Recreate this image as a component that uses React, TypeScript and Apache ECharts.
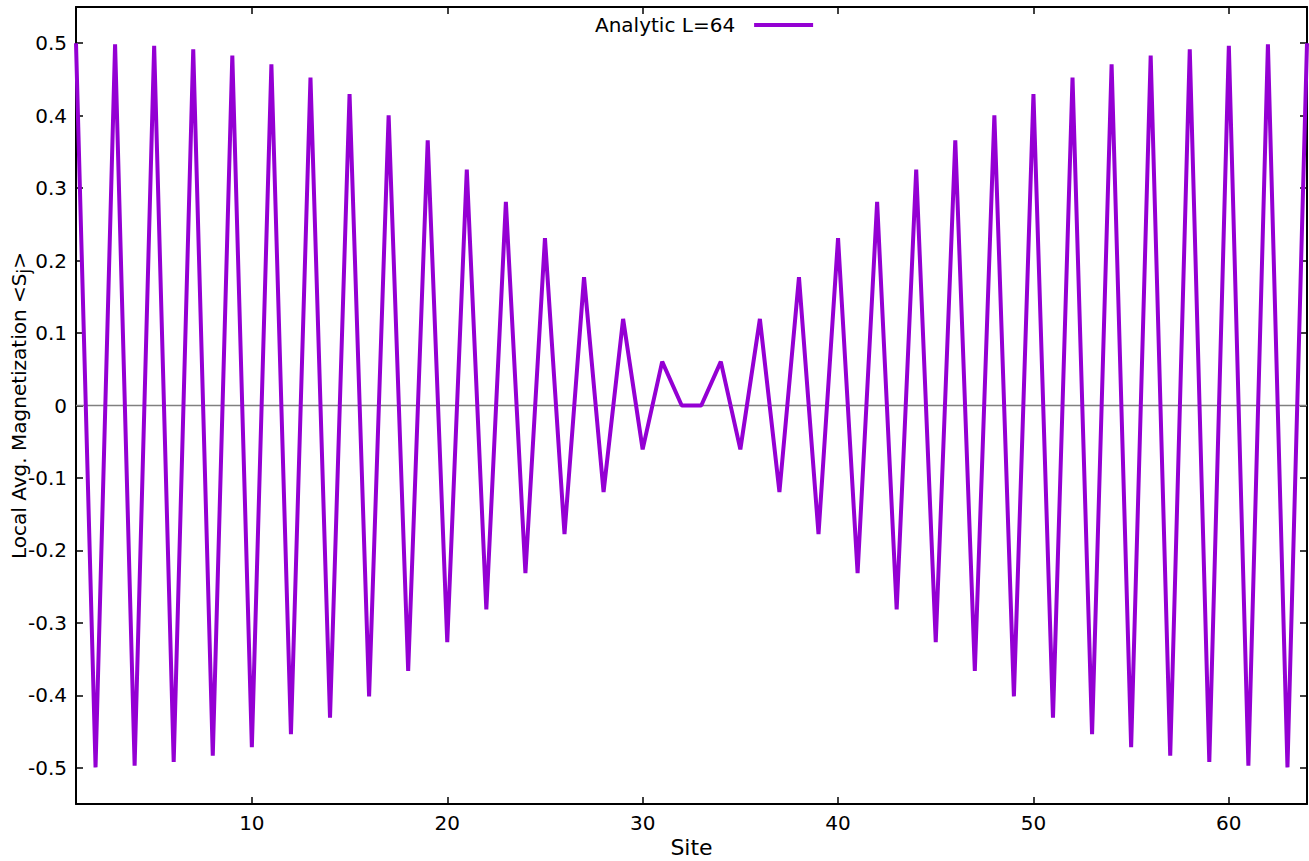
import React, { useEffect, useRef } from "react";
import * as echarts from "echarts";

const sites: number[] = [
  1, 2, 3, 4, 5, 6, 7, 8, 9, 10, 11, 12, 13, 14, 15, 16,
  17, 18, 19, 20, 21, 22, 23, 24, 25, 26, 27, 28, 29, 30, 31, 32,
  33, 34, 35, 36, 37, 38, 39, 40, 41, 42, 43, 44, 45, 46, 47, 48,
  49, 50, 51, 52, 53, 54, 55, 56, 57, 58, 59, 60, 61, 62, 63, 64,
];

const magnetization: number[] = [
  0.5, -0.4995, 0.4985, -0.497, 0.4965, -0.492, 0.4915, -0.4835,
  0.483, -0.4715, 0.471, -0.4535, 0.4525, -0.431, 0.43, -0.4015,
  0.4005, -0.3665, 0.366, -0.3265, 0.3255, -0.2815, 0.281, -0.2315,
  0.231, -0.1775, 0.177, -0.1195, 0.1195, -0.0605, 0.0605, 0.0,
  0.0, 0.0605, -0.0605, 0.1195, -0.1195, 0.177, -0.1775, 0.231,
  -0.2315, 0.281, -0.2815, 0.3255, -0.3265, 0.366, -0.3665, 0.4005,
  -0.4015, 0.43, -0.431, 0.4525, -0.4535, 0.471, -0.4715, 0.483,
  -0.4835, 0.4915, -0.492, 0.4965, -0.497, 0.4985, -0.4995, 0.5,
];

const xTicks: number[] = [10, 20, 30, 40, 50, 60];
const yTicks: number[] = [-0.5, -0.4, -0.3, -0.2, -0.1, 0, 0.1, 0.2, 0.3, 0.4, 0.5];

const seriesName = "Analytic L=64";
const FONT = "DejaVu Sans";

export default function App() {
  const ref = useRef<HTMLDivElement>(null);

  useEffect(() => {
    if (!ref.current) return;
    const chart = echarts.init(ref.current, undefined, { renderer: "svg" });

    const axisLine = { show: true, onZero: false, lineStyle: { color: "#000", width: 2 } };
    const tickStyle = { color: "#000", width: 1.5 };

    const option: any = {
      animation: false,
      backgroundColor: "#fff",
      grid: {
        left: 76,
        right: 2,
        top: 7,
        bottom: 57,
        containLabel: false,
        outerBoundsMode: "none",
      },
      legend: {
        data: [{ name: seriesName, icon: "rect" }],
        left: 590,
        top: 10,
        align: "right",
        itemWidth: 59,
        itemHeight: 4,
        selectedMode: false,
        textStyle: { fontFamily: FONT, fontSize: 20, color: "#000", padding: [6, 14, 0, 0] },
      },
      xAxis: [
        {
          type: "value",
          min: 1,
          max: 64,
          position: "bottom",
          name: "Site",
          nameLocation: "middle",
          nameGap: 32,
          nameMoveOverlap: false,
          nameTextStyle: { fontFamily: FONT, fontSize: 22, color: "#000" },
          axisLine,
          axisTick: { show: true, inside: true, length: 7, customValues: xTicks, lineStyle: tickStyle },
          axisLabel: {
            customValues: xTicks,
            fontFamily: FONT,
            fontSize: 20,
            color: "#000",
            margin: 9,
          },
          splitLine: { show: false },
        },
        {
          type: "value",
          min: 1,
          max: 64,
          position: "top",
          axisLine,
          axisTick: { show: true, inside: true, length: 7, customValues: xTicks, lineStyle: tickStyle },
          axisLabel: { show: false, customValues: xTicks },
          splitLine: { show: false },
        },
      ],
      yAxis: [
        {
          type: "value",
          min: -0.55,
          max: 0.55,
          position: "left",
          name: "Local Avg. Magnetization <S{sub|j}>",
          nameLocation: "middle",
          nameGap: 44,
          nameMoveOverlap: false,
          nameRotate: 90,
          nameTextStyle: {
            fontFamily: FONT,
            fontSize: 20,
            lineHeight: 26,
            color: "#000",
            rich: {
              sub: {
                fontFamily: FONT,
                fontSize: 17,
                color: "#000",
                lineHeight: 26,
                verticalAlign: "bottom",
              },
            },
          },
          axisLine,
          axisTick: { show: true, inside: true, length: 7, customValues: yTicks, lineStyle: tickStyle },
          axisLabel: {
            customValues: yTicks,
            fontFamily: FONT,
            fontSize: 20,
            color: "#000",
            margin: 9,
            formatter: (v: number) => (Math.abs(v) < 1e-9 ? "0" : v.toFixed(1)),
          },
          splitLine: { show: false },
        },
        {
          type: "value",
          min: -0.55,
          max: 0.55,
          position: "right",
          axisLine,
          axisTick: { show: true, inside: true, length: 7, customValues: yTicks, lineStyle: tickStyle },
          axisLabel: { show: false, customValues: yTicks },
          splitLine: { show: false },
        },
      ],
      series: [
        {
          name: "zero",
          type: "line",
          xAxisIndex: 0,
          yAxisIndex: 0,
          data: [
            [sites[0], 0],
            [sites[sites.length - 1], 0],
          ],
          symbol: "none",
          silent: true,
          z: 1,
          lineStyle: { color: "#808080", width: 1.5 },
          itemStyle: { color: "#808080" },
        },
        {
          name: seriesName,
          type: "line",
          xAxisIndex: 0,
          yAxisIndex: 0,
          data: sites.map((s, i) => [s, magnetization[i]]),
          symbol: "none",
          z: 3,
          lineStyle: { color: "#9400D3", width: 4 },
          itemStyle: { color: "#9400D3" },
        },
      ],
    };

    chart.setOption(option);
    return () => chart.dispose();
  }, []);

  return (
    <div
      ref={ref}
      style={{ position: "absolute", left: 0, top: 0, width: 1309, height: 861 }}
    />
  );
}
